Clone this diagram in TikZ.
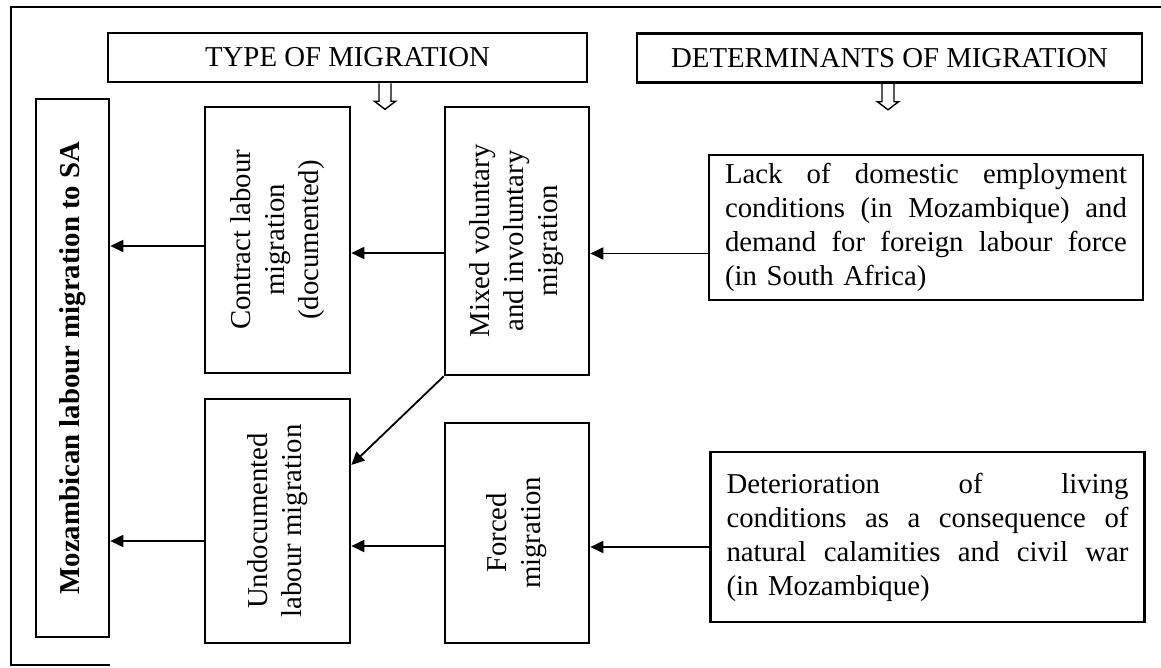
\documentclass[tikz,border=0pt]{standalone}
\usepackage{fontspec}
\setmainfont{Liberation Serif}
\usepackage{graphicx}
\usepackage{tikz}
\usetikzlibrary{arrows.meta,positioning}
\newcommand{\fillline}[1]{\leavevmode\hbox to 201pt{#1}}

\begin{document}
\begin{tikzpicture}[x=0.5pt,y=-0.5pt,>={Triangle[length=6.5pt,width=6pt]},
  every node/.style={font=\fontsize{14.4}{17}\selectfont}]
  \tikzset{box/.style={draw,line width=1.3pt,inner sep=0pt},
           hdrbox/.style={box,minimum height=24.5pt},
           txtbox/.style={box,text width=201pt,align=left,inner xsep=8pt},
           link/.style={->,line width=0.9pt},
           hollowarrow/.pic={\draw[line width=0.7pt] (-3pt,0) -- (-3pt,-9pt) -- (-5.25pt,-9pt)
                             -- (0,-13pt) -- (5.25pt,-9pt) -- (3pt,-9pt) -- (3pt,0);}}
  \useasboundingbox (0,0) rectangle (1161,668);
  % frame
  \draw[line width=1.3pt] (1161,7) -- (11,7) -- (11,665) -- (110,665);
  % headings
  \node[hdrbox,minimum width=239.5pt] (typ) at (347.5,57.5) {TYPE OF MIGRATION};
  \node[hdrbox,minimum width=252.5pt] (det) at (889.5,58) {DETERMINANTS OF MIGRATION};
  \path ([xshift=18.75pt]typ.south) pic {hollowarrow};
  \path ([xshift=-0.75pt]det.south) pic {hollowarrow};
  % boxes
  \node[box,minimum width=36.5pt,minimum height=269pt] (moz) at (72.5,368)
    {\rotatebox{90}{\bfseries Mozambican labour migration to SA}};
  \node[box,minimum width=72.5pt,minimum height=133pt] (con) at (277.5,240)
    {\rotatebox{90}{\begin{tabular}{@{}c@{}}Contract labour\\ migration\\ (documented)\end{tabular}}};
  \node[box,minimum width=72.5pt,minimum height=122pt] (und) at (277.5,521)
    {\rotatebox{90}{\begin{tabular}{@{}c@{}}Undocumented\\ labour migration\end{tabular}}};
  \node[box,minimum width=72pt,minimum height=134pt] (mix) at (517,241)
    {\rotatebox{90}{\begin{tabular}{@{}c@{}}Mixed voluntary\\ and involuntary\\ migration\end{tabular}}};
  \node[box,minimum width=72pt,minimum height=110pt] (frc) at (517,533)
    {\rotatebox{90}{\begin{tabular}{@{}c@{}}Forced\\ migration\end{tabular}}};
  \node[txtbox,minimum height=72.5pt] (lack) at (926,227.5)
    {\fillline{Lack\hfill of\hfill domestic\hfill employment}\\
     \fillline{conditions\hfill (in\hfill Mozambique)\hfill and}\\
     \fillline{demand\hfill for\hfill foreign\hfill labour\hfill force}\\
     (in South Africa)};
  \node[txtbox,minimum height=85pt] (dete) at (927.5,537)
    {\fillline{Deterioration\hfill of\hfill living}\\
     \fillline{conditions\hfill as\hfill a\hfill consequence\hfill of}\\
     \fillline{natural\hfill calamities\hfill and\hfill civil\hfill war}\\
     (in Mozambique)};
  % links
  \draw[link] ([yshift=-13pt]lack.west) -- ([yshift=-13pt]lack.west -| mix.east);
  \draw[link] ([yshift=-6pt]mix.west) -- ([yshift=-6pt]mix.west -| con.east);
  \draw[link] ([yshift=-3pt]con.west) -- ([yshift=-3pt]con.west -| moz.east);
  \draw[link] (mix.south west) -- ([yshift=28pt]und.east);
  \draw[link] ([yshift=-5pt]dete.west) -- ([yshift=-5pt]dete.west -| frc.east);
  \draw[link] ([yshift=-6.5pt]frc.west) -- ([yshift=-6.5pt]frc.west -| und.east);
  \draw[link] ([yshift=-10pt]und.west) -- ([yshift=-10pt]und.west -| moz.east);
\end{tikzpicture}
\end{document}
